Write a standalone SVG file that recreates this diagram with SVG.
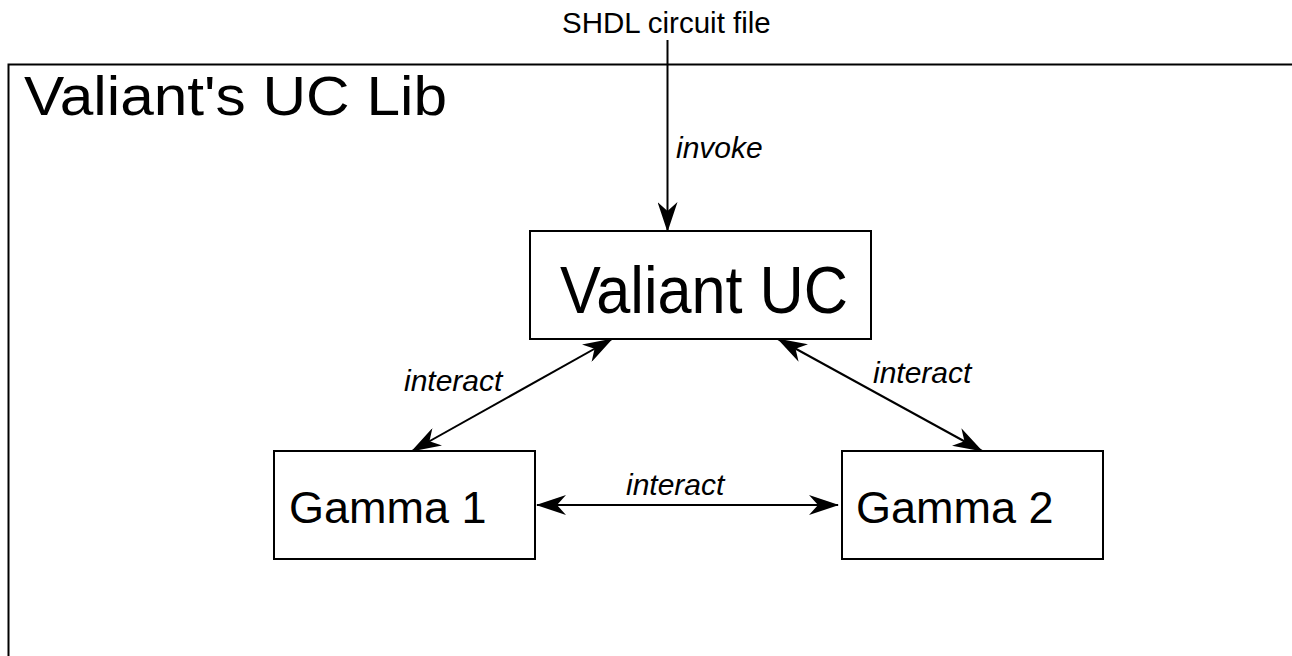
<svg xmlns="http://www.w3.org/2000/svg" width="1292" height="656" viewBox="0 0 1292 656">
<style>
.box{fill:#fff;stroke:#000;stroke-width:2}
.frame{fill:none;stroke:#000;stroke-width:2}
.t{font-family:"Liberation Sans",Arial,sans-serif;fill:#000}
.lbl{font-family:"Liberation Sans",Arial,sans-serif;font-style:italic;font-size:30px;fill:#000}
.edge{fill:none;stroke:#000;stroke-width:2}
</style>
<defs>
<marker id="ah" viewBox="0 0 30 20" refX="29" refY="10" markerWidth="30" markerHeight="20" markerUnits="userSpaceOnUse" orient="auto-start-reverse">
<path d="M0,0 L30,10 L0,20 L9,10 Z" fill="#000"/>
</marker>
</defs>
<rect id="background" x="0" y="0" width="1292" height="656" fill="#fff"/>
<g id="lib">
<rect class="frame" x="8.5" y="64.5" width="1300" height="620"/>
<text class="t" x="24" y="115" font-size="56" textLength="423" lengthAdjust="spacingAndGlyphs">Valiant's UC Lib</text>
</g>
<text id="shdl" class="t" x="562" y="33" font-size="29.5">SHDL circuit file</text>
<g id="valiant-uc">
<rect class="box" x="530" y="231" width="341" height="108"/>
<text class="t" x="560" y="312.5" font-size="66" textLength="288" lengthAdjust="spacingAndGlyphs">Valiant UC</text>
</g>
<g id="gamma1">
<rect class="box" x="274" y="451" width="261" height="108"/>
<text class="t" x="289" y="523" font-size="45">Gamma 1</text>
</g>
<g id="gamma2">
<rect class="box" x="842" y="451" width="261" height="108"/>
<text class="t" x="856" y="523" font-size="45">Gamma 2</text>
</g>
<g id="connectors">
<line class="edge" x1="667.5" y1="40" x2="667.5" y2="231" marker-end="url(#ah)"/>
<line class="edge" x1="612" y1="339" x2="412" y2="451" marker-start="url(#ah)" marker-end="url(#ah)"/>
<line class="edge" x1="778" y1="339" x2="982" y2="451" marker-start="url(#ah)" marker-end="url(#ah)"/>
<line class="edge" x1="537" y1="505" x2="838" y2="505" marker-start="url(#ah)" marker-end="url(#ah)"/>
<text class="lbl" x="676" y="158">invoke</text>
<text class="lbl" x="404" y="391">interact</text>
<text class="lbl" x="873" y="383">interact</text>
<text class="lbl" x="626" y="495">interact</text>
</g>
</svg>
